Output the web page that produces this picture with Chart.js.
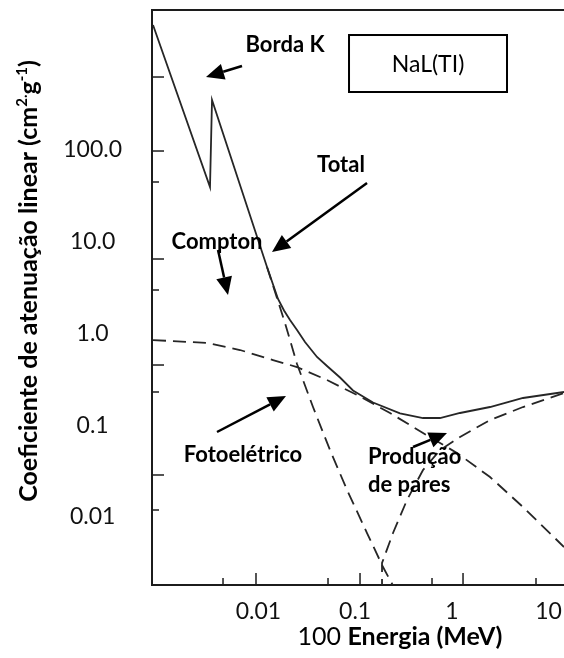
<!DOCTYPE html>
<html>
<head>
<meta charset="utf-8">
<title>NaL(TI) - coeficiente de atenuação</title>
<script src="https://cdn.jsdelivr.net/npm/chart.js@4.4.1/dist/chart.umd.min.js"></script>
<style>
  html, body { margin: 0; padding: 0; background: #fff; }
  #chart { display: block; }
</style>
</head>
<body>
<canvas id="chart" width="564" height="658"></canvas>
<script>
const totalEnergy = [0.000813, 0.003158, 0.003313, 0.01227, 0.01595, 0.0184, 0.02122, 0.02507, 0.03033, 0.04036, 0.05122, 0.06981, 0.09513, 0.1532, 0.2912, 0.5037, 0.7552, 1.216, 2.483, 5.449, 14.46];
const totalCoef   = [2304, 39.5, 350.8, 5.306, 2.377, 1.781, 1.403, 1.092, 0.8079, 0.5545, 0.4423, 0.3315, 0.2392, 0.177, 0.135, 0.1199, 0.1199, 0.136, 0.1581, 0.1982, 0.2304];

const comptonEnergy = [0.000813, 0.00294, 0.00645, 0.01416, 0.02507, 0.05122, 0.1046, 0.2296, 0.5037, 1.132, 2.483, 5.449, 14.46];
const comptonCoef   = [0.849, 0.788, 0.661, 0.514, 0.431, 0.311, 0.214, 0.136, 0.0823, 0.0498, 0.0273, 0.01285, 0.00471];

const photoEnergy = [0.01227, 0.01521, 0.01884, 0.02507, 0.03669, 0.055, 0.0825, 0.1328, 0.1943, 0.2713];
const photoCoef   = [5.306, 2.628, 1.301, 0.4651, 0.158, 0.0537, 0.0197, 0.00669, 0.00285, 0.001485];

const pairEnergy = [0.1898, 0.1898, 0.2465, 0.344, 0.5037, 0.7552, 1.216, 2.483, 5.449, 14.46];
const pairCoef   = [0.001523, 0.00315, 0.00669, 0.01532, 0.03253, 0.0537, 0.0744, 0.1141, 0.158, 0.2246];

const xTickValues = [0.01, 0.1, 1, 10];
const xTickLabels = ['0.01', '0.1', '1', '10'];
const yTickValues = [0.01, 0.1, 1, 10, 100];
const yTickLabels = ['0.01', '0.1', '1.0', '10.0', '100.0'];

// small tick marks of the scanned frame (not aligned to the labels)
const xMarksLong  = [0.00944, 0.1124, 1.306];
const xMarksShort = [0.004305, 0.05245, 0.6241, 7.424];
const yMarksLong  = [624.5, 97.5, 6.486, 0.4535, 0.0287];
const yMarksShort = [44.8, 2.979, 0.2304, 0.01192];

const xRange = [0.0007935, 14.46];
const yRange = [0.001815, 3357];

const FONT = 'Lato, "Open Sans", sans-serif';
const INK = '#1c1c1c';

// annotations, in data units
const notes = [
  { text: 'Borda K', x: 0.01884, y: 1394, align: 'center' },
  { text: 'Total', x: 0.07148, y: 68.6, align: 'center' },
  { text: 'Compton', x: 0.003731, y: 9.94, align: 'center' },
  { text: 'Fotoelétrico', x: 0.006931, y: 0.04739, align: 'center' },
  { text: 'Produção', x: 0.1359, y: 0.04508, align: 'left' },
  { text: 'de pares', x: 0.1359, y: 0.02233, align: 'left' }
];
const arrows = [
  { from: [0.006767, 823], to: [0.002871, 624.5] },
  { from: [0.1328, 43.7], to: [0.01382, 7.733] },
  { from: [0.003822, 8.13], to: [0.004849, 2.628] },
  { from: [0.003731, 0.08441], to: [0.01929, 0.2084] },
  { from: [0.3971, 0.0579], to: [0.892, 0.0823] }
];
const materialBox = { text: 'NaL(TI)', x: [0.08649, 3.722], y: [428.7, 1792] };

function pts(xs, ys) { return xs.map((x, i) => ({ x: x, y: ys[i] })); }

function curve(label, xs, ys, dashed) {
  return {
    label: label, data: pts(xs, ys),
    borderColor: '#262626', borderWidth: 1.8,
    borderDash: dashed ? [13, 7] : [],
    pointRadius: 0, tension: 0, fill: false, clip: 0
  };
}

function arrow(ctx, x1, y1, x2, y2) {
  const a = Math.atan2(y2 - y1, x2 - x1), len = 18, half = 8;
  const bx = x2 - len * Math.cos(a), by = y2 - len * Math.sin(a);
  ctx.beginPath(); ctx.moveTo(x1, y1); ctx.lineTo(bx, by); ctx.stroke();
  ctx.beginPath();
  ctx.moveTo(x2, y2);
  ctx.lineTo(bx + half * Math.sin(a), by - half * Math.cos(a));
  ctx.lineTo(bx - half * Math.sin(a), by + half * Math.cos(a));
  ctx.closePath(); ctx.fill();
}

const framePlugin = {
  id: 'frame',
  afterDatasetsDraw(chart) {
    const { ctx, chartArea: a, scales: { x, y } } = chart;
    ctx.save();
    ctx.strokeStyle = INK;
    ctx.lineWidth = 2;
    ctx.beginPath(); ctx.moveTo(a.left, a.top); ctx.lineTo(a.right, a.top); ctx.stroke();
    ctx.lineWidth = 1.5;
    const xm = (vals, len) => vals.forEach(v => {
      const p = x.getPixelForValue(v);
      ctx.beginPath(); ctx.moveTo(p, a.bottom); ctx.lineTo(p, a.bottom - len); ctx.stroke();
    });
    const ym = (vals, len) => vals.forEach(v => {
      const p = y.getPixelForValue(v);
      ctx.beginPath(); ctx.moveTo(a.left, p); ctx.lineTo(a.left + len, p); ctx.stroke();
    });
    xm(xMarksLong, 12); xm(xMarksShort, 7);
    ym(yMarksLong, 12); ym(yMarksShort, 7);
    ctx.restore();
  }
};

const notesPlugin = {
  id: 'notes',
  afterDraw(chart) {
    const { ctx, scales: { x, y } } = chart;
    ctx.save();
    ctx.fillStyle = '#000';
    ctx.strokeStyle = '#000';
    ctx.textBaseline = 'middle';
    ctx.font = 'bold 22px ' + FONT;
    notes.forEach(n => {
      ctx.textAlign = n.align;
      ctx.fillText(n.text, x.getPixelForValue(n.x), y.getPixelForValue(n.y));
    });
    ctx.lineWidth = 2.5;
    arrows.forEach(r => arrow(ctx,
      x.getPixelForValue(r.from[0]), y.getPixelForValue(r.from[1]),
      x.getPixelForValue(r.to[0]), y.getPixelForValue(r.to[1])));

    // material box
    const bx1 = x.getPixelForValue(materialBox.x[0]), bx2 = x.getPixelForValue(materialBox.x[1]);
    const by1 = y.getPixelForValue(materialBox.y[1]), by2 = y.getPixelForValue(materialBox.y[0]);
    ctx.lineWidth = 2;
    ctx.strokeRect(bx1, by1, bx2 - bx1, by2 - by1);
    ctx.font = '23px ' + FONT;
    ctx.textAlign = 'center';
    ctx.fillText(materialBox.text, (bx1 + bx2) / 2, (by1 + by2) / 2 + 1);

    // x title: "100" regular + "Energia (MeV)" bold
    ctx.textBaseline = 'alphabetic';
    ctx.textAlign = 'left';
    const reg = '25px ' + FONT, bold = 'bold 25px ' + FONT;
    ctx.font = reg; const w1 = ctx.measureText('100 ').width;
    ctx.font = bold; const w2 = ctx.measureText('Energia (MeV)').width;
    const tx = 400 - (w1 + w2) / 2;
    ctx.font = reg; ctx.fillText('100 ', tx, 645);
    ctx.font = bold; ctx.fillText('Energia (MeV)', tx + w1, 645);

    // y title with superscripts
    const parts = [
      { t: 'Coeficiente de atenuação linear (cm', sup: false },
      { t: '2.', sup: true },
      { t: 'g', sup: false },
      { t: '-1', sup: true },
      { t: ')', sup: false }
    ];
    const big = 'bold 25px ' + FONT, small = 'bold 15px ' + FONT;
    let total = 0;
    parts.forEach(p => { ctx.font = p.sup ? small : big; p.w = ctx.measureText(p.t).width; total += p.w; });
    ctx.translate(37, 281);
    ctx.rotate(-Math.PI / 2);
    let cx = -total / 2;
    parts.forEach(p => {
      ctx.font = p.sup ? small : big;
      ctx.fillText(p.t, cx, p.sup ? -10 : 0);
      cx += p.w;
    });
    ctx.restore();
  }
};

new Chart(document.getElementById('chart'), {
  type: 'line',
  data: {
    datasets: [
      curve('Total', totalEnergy, totalCoef, false),
      curve('Compton', comptonEnergy, comptonCoef, true),
      curve('Fotoelétrico', photoEnergy, photoCoef, true),
      curve('Produção de pares', pairEnergy, pairCoef, true)
    ]
  },
  options: {
    responsive: false,
    animation: false,
    layout: { padding: { top: 10, left: 0, right: 0, bottom: 0 } },
    plugins: { legend: { display: false }, tooltip: { enabled: false } },
    scales: {
      x: {
        type: 'logarithmic', min: xRange[0], max: xRange[1],
        afterBuildTicks: s => { s.ticks = xTickValues.map(v => ({ value: v })); },
        afterFit: s => { s.height = 73; s.paddingLeft = 0; s.paddingRight = 0; },
        grid: { display: true, drawOnChartArea: false, drawTicks: false },
        border: { display: true, color: INK, width: 2 },
        ticks: {
          autoSkip: false, maxRotation: 0, minRotation: 0, padding: 13,
          color: '#111', font: { family: FONT, size: 23 },
          callback: (v, i) => xTickLabels[i]
        }
      },
      y: {
        type: 'logarithmic', min: yRange[0], max: yRange[1],
        afterBuildTicks: s => { s.ticks = yTickValues.map(v => ({ value: v })); },
        afterFit: s => { s.width = 152; s.paddingTop = 0; s.paddingBottom = 0; },
        grid: { display: true, drawOnChartArea: false, drawTicks: false },
        border: { display: true, color: INK, width: 2 },
        ticks: {
          autoSkip: false, crossAlign: 'center', padding: 30,
          color: '#111', font: { family: FONT, size: 23 },
          callback: (v, i) => yTickLabels[i]
        }
      }
    }
  },
  plugins: [framePlugin, notesPlugin]
});
</script>
</body>
</html>
